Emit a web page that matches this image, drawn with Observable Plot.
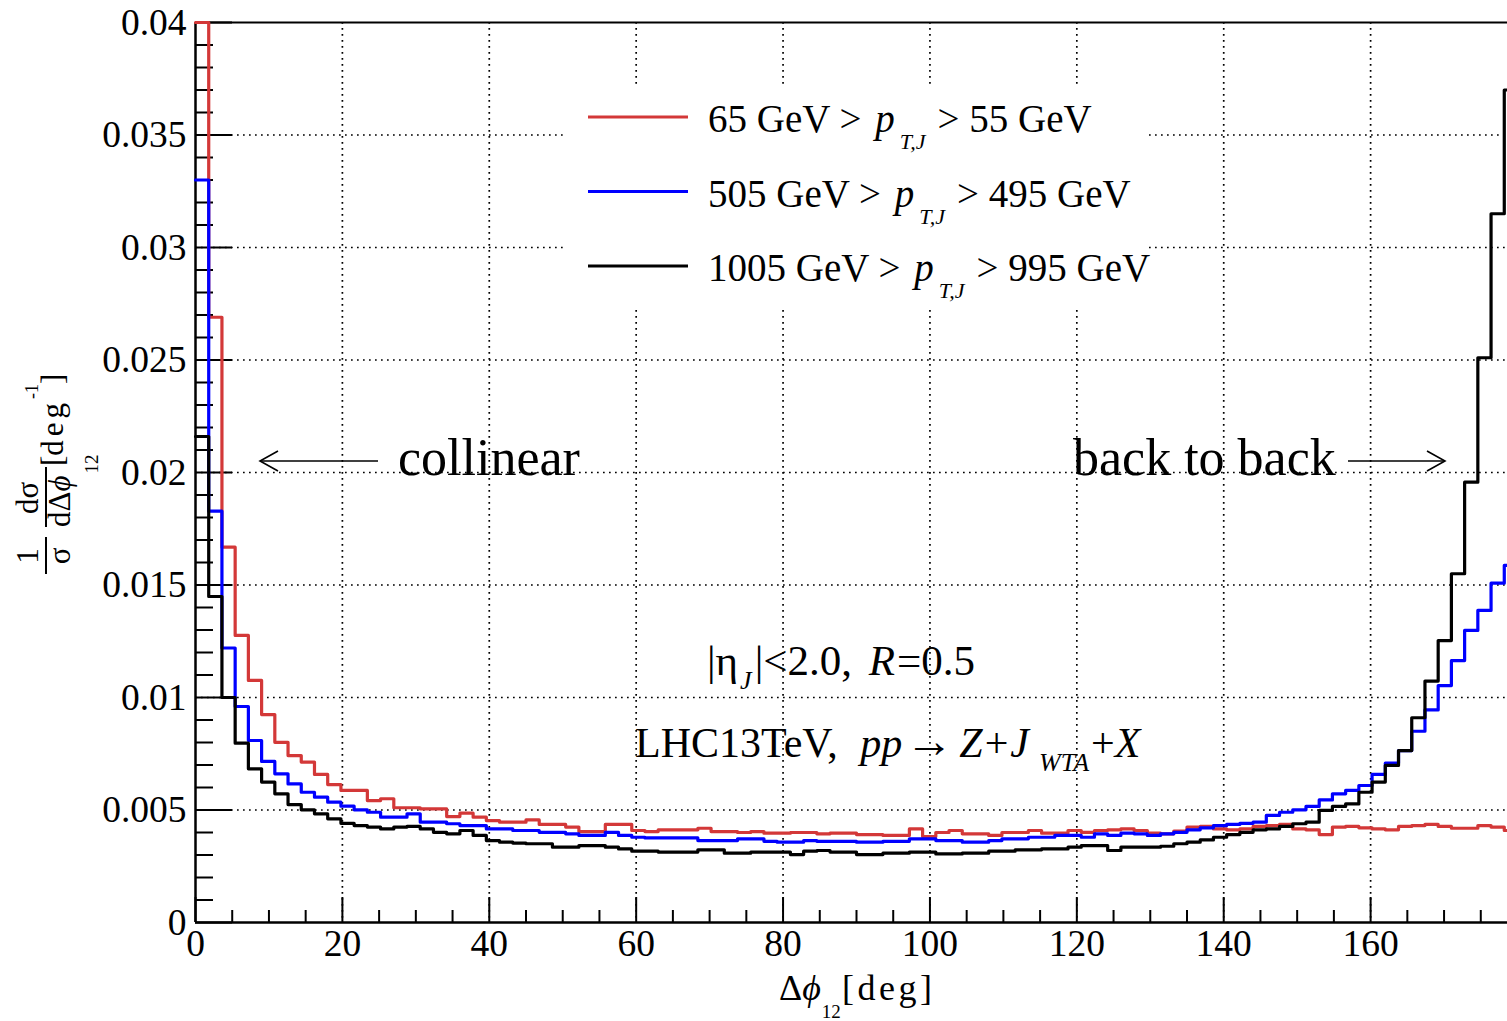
<!DOCTYPE html>
<html><head><meta charset="utf-8">
<script src="https://cdn.jsdelivr.net/npm/d3@7"></script>
<script src="https://cdn.jsdelivr.net/npm/@observablehq/plot@0.6"></script>
<style>
html,body{margin:0;padding:0;overflow:hidden;background:#fff;width:1507px;height:1021px}
#chart svg{max-width:none !important;}
</style></head><body><div id="chart"></div>
<script>
const binWidth = 1.8;
const seriesNames = ["65 GeV > pT,J > 55 GeV", "505 GeV > pT,J > 495 GeV", "1005 GeV > pT,J > 995 GeV"];
const seriesColors = ["#d33838", "#0000ff", "#000000"];
const legendPre = ["65 GeV > ", "505 GeV > ", "1005 GeV > "];
const legendPost = ["> 55 GeV", "> 495 GeV", "> 995 GeV"];
const red = [0.0400,0.0269,0.01668,0.01276,0.01076,0.00924,0.00801,0.00742,0.00713,0.00658,
0.00613,0.00587,0.00587,0.00542,0.0055,0.0051,0.0051,0.00505,0.00505,0.00471,
0.00486,0.00468,0.00453,0.00446,0.00446,0.00456,0.00436,0.00436,0.00424,0.00404,
0.00404,0.00436,0.00436,0.00409,0.00404,0.00412,0.00412,0.00412,0.00419,0.00404,
0.00404,0.00400,0.00404,0.00397,0.00397,0.00400,0.00400,0.00394,0.00397,0.00397,
0.00391,0.00391,0.00387,0.00387,0.00416,0.00382,0.00400,0.00409,0.00394,0.00394,
0.00387,0.00400,0.00400,0.00409,0.00397,0.00397,0.00409,0.00401,0.00409,0.00412,
0.00416,0.00409,0.00397,0.00394,0.00406,0.00424,0.00427,0.00416,0.00412,0.00416,
0.00427,0.00431,0.00436,0.00416,0.00412,0.00391,0.00424,0.00427,0.00421,0.00416,
0.00412,0.00427,0.00431,0.00436,0.00427,0.00419,0.00419,0.00431,0.00424,0.00409];
const blue = [0.0330,0.01828,0.0122,0.0096,0.00809,0.00716,0.00661,0.00616,0.00579,0.00557,
0.00535,0.00517,0.00501,0.0049,0.00468,0.00468,0.00483,0.00446,0.00446,0.00439,
0.00431,0.00431,0.00416,0.00416,0.00409,0.00409,0.00401,0.00401,0.00394,0.00387,
0.00387,0.00401,0.00387,0.00379,0.00376,0.00376,0.00376,0.00376,0.00364,0.00364,
0.00364,0.00372,0.00372,0.00361,0.00357,0.00357,0.00364,0.00361,0.00361,0.00361,
0.00357,0.00357,0.00361,0.00361,0.00372,0.00372,0.00364,0.00364,0.00357,0.00357,
0.00364,0.00372,0.00372,0.00379,0.00379,0.00387,0.00387,0.00379,0.00394,0.00387,
0.00397,0.00394,0.00387,0.00394,0.00401,0.00412,0.00421,0.00431,0.00436,0.00441,
0.00446,0.00476,0.0049,0.00501,0.00516,0.00545,0.00572,0.00587,0.00609,0.00658,
0.00708,0.00764,0.0085,0.00945,0.01053,0.01164,0.01298,0.01387,0.01508,0.01587];
const black = [0.0216,0.01449,0.0100,0.00797,0.00683,0.00624,0.00572,0.00524,0.00501,0.00483,
0.00461,0.00441,0.00431,0.00424,0.00416,0.00424,0.00427,0.00416,0.00401,0.00394,
0.00409,0.00387,0.00364,0.00357,0.00353,0.0035,0.0035,0.00335,0.00335,0.00342,
0.00342,0.00335,0.00327,0.00317,0.00317,0.00313,0.00313,0.00313,0.00323,0.00323,
0.00308,0.00308,0.00313,0.00313,0.00313,0.00302,0.00317,0.0032,0.00313,0.00313,
0.00302,0.00302,0.00308,0.00308,0.00313,0.00313,0.00305,0.00305,0.00308,0.00308,
0.00317,0.00317,0.00323,0.00323,0.00327,0.00327,0.00335,0.00342,0.00342,0.0032,
0.00335,0.00335,0.00335,0.00339,0.0035,0.00357,0.00367,0.00379,0.00391,0.00401,
0.00412,0.00416,0.00427,0.00439,0.00446,0.00498,0.00516,0.00527,0.00579,0.00624,
0.00698,0.00764,0.0091,0.01073,0.01253,0.0155,0.01957,0.0251,0.0315,0.0370];
const xMajor = [0,20,40,60,80,100,120,140,160,180];
const xLabels = [0,20,40,60,80,100,120,140,160];
const xMinor = d3.range(0, 181, 5).filter(d => d % 20 !== 0);
const yMajor = [0,0.005,0.01,0.015,0.02,0.025,0.03,0.035,0.04];
const yMinor = d3.range(0, 41).map(d => d/1000).filter((d,i) => i % 5 !== 0);

const series = [red, blue, black];
const rows = [];
series.forEach((vals, si) => {
  vals.forEach((v, i) => rows.push({x: i*binWidth, y: v, s: seriesNames[si]}));
  rows.push({x: 180, y: vals[vals.length-1], s: seriesNames[si]});
});

const FONT = "'Liberation Serif','Times New Roman',serif";
const fmt = d => String(+d.toFixed(3));
const grid = {stroke: "black", strokeOpacity: 1, strokeWidth: 1.7, strokeDasharray: "1.7,4.3"};

const chart = Plot.plot({
  width: 1525, height: 1021,
  marginLeft: 195, marginRight: 8, marginTop: 22, marginBottom: 99,
  style: {fontFamily: FONT, background: "white", color: "black", overflow: "visible", maxWidth: "none"},
  x: {domain: [0, 180], label: null},
  y: {domain: [0, 0.04], label: null},
  color: {domain: seriesNames, range: seriesColors},
  marks: [
    Plot.gridX(xMajor.filter(d => d > 0 && d < 180), grid),
    Plot.gridY(yMajor.filter(d => d > 0 && d < 0.04), grid),
    Plot.axisY(yMinor, {anchor: "left", tickSize: -18, tickFormat: () => "", strokeWidth: 2, label: null}),
    Plot.axisY(yMajor, {anchor: "left", tickSize: -37, tickFormat: () => "", strokeWidth: 2, label: null}),
    Plot.axisY(yMajor, {anchor: "left", tickSize: 0, tickPadding: 9, tickFormat: fmt, fontSize: 37.5, label: null}),
    Plot.axisX(xMinor, {anchor: "bottom", tickSize: -12, tickFormat: () => "", strokeWidth: 2, label: null}),
    Plot.axisX(xMajor, {anchor: "bottom", tickSize: -25, tickFormat: () => "", strokeWidth: 2, label: null}),
    Plot.axisX(xLabels, {anchor: "bottom", tickSize: 0, tickPadding: 7, fontSize: 37.5, label: null}),
    Plot.ruleX([0], {stroke: "black", strokeWidth: 2.5}),
    Plot.ruleY([0], {stroke: "black", strokeWidth: 2.5}),
    Plot.ruleY([0.04], {stroke: "black", strokeWidth: 2}),
    Plot.line(rows, {x: "x", y: "y", z: "s", stroke: "s", curve: "step-after", strokeWidth: 3.2})
  ]
});
chart.style.maxWidth = "none";
document.getElementById("chart").append(chart);

const svg = d3.select(chart);
const g = svg.append("g").attr("font-family", FONT).attr("fill", "black").attr("text-anchor", "start");

// Legend
const leg = g.append("g");
leg.append("rect").attr("x", 566).attr("y", 84).attr("width", 580).attr("height", 222).attr("fill", "white");
seriesNames.forEach((name, i) => {
  const yl = 117 + i * 74.5;
  leg.append("line").attr("x1", 588).attr("x2", 688).attr("y1", yl).attr("y2", yl)
    .attr("stroke", seriesColors[i]).attr("stroke-width", 3.2);
  const t = leg.append("text").attr("x", 708).attr("y", yl + 15).attr("font-size", 39);
  t.append("tspan").text(legendPre[i]);
  t.append("tspan").attr("font-style", "italic").attr("dx", 4).text("p");
  t.append("tspan").attr("font-style", "italic").attr("font-size", 22).attr("dy", 17).attr("dx", 5).text("T,J");
  t.append("tspan").attr("dy", -17).attr("dx", 12).text(legendPost[i]);
});

// collinear / back to back
g.append("text").attr("x", 398).attr("y", 475).attr("font-size", 52).text("collinear");
g.append("text").attr("x", 1073).attr("y", 475).attr("font-size", 52).text("back to back");
const arr = g.append("g").attr("stroke", "black").attr("stroke-width", 1.6).attr("fill", "none");
arr.append("line").attr("x1", 260).attr("x2", 378).attr("y1", 461).attr("y2", 461);
arr.append("polyline").attr("points", "278,451 260,461 278,471");
arr.append("line").attr("x1", 1348).attr("x2", 1445).attr("y1", 461).attr("y2", 461);
arr.append("polyline").attr("points", "1427,451 1445,461 1427,471");

// eta, R text
const t1 = g.append("text").attr("x", 707).attr("y", 675).attr("font-size", 43);
t1.append("tspan").text("|η");
t1.append("tspan").attr("font-style", "italic").attr("font-size", 26).attr("dy", 14).attr("dx", 2).text("J");
t1.append("tspan").attr("dy", -14).attr("dx", 3).text("|<2.0, ");
t1.append("tspan").attr("font-style", "italic").attr("dx", 6).text("R");
t1.append("tspan").attr("dx", 2).text("=0.5");

const t2 = g.append("text").attr("x", 635).attr("y", 757).attr("font-size", 42);
t2.append("tspan").text("LHC13TeV, ");
t2.append("tspan").attr("font-style", "italic").attr("dx", 12).text("pp");
t2.append("tspan").attr("font-size", 48).attr("dx", 3).text("→");
t2.append("tspan").attr("font-style", "italic").attr("dx", 6).text("Z");
t2.append("tspan").attr("dx", 2).text("+");
t2.append("tspan").attr("font-style", "italic").attr("dx", 2).text("J");
t2.append("tspan").attr("font-style", "italic").attr("font-size", 26).attr("dy", 14).attr("dx", 10).text("WTA");
t2.append("tspan").attr("dy", -14).attr("dx", 2).text("+");
t2.append("tspan").attr("font-style", "italic").text("X");

// x axis title
const xt = g.append("g");
const xa = xt.append("text").attr("x", 779).attr("y", 1000).attr("font-size", 36);
xa.append("tspan").text("Δ");
xa.append("tspan").attr("font-style", "italic").text("ϕ");
xa.append("tspan").attr("font-size", 19).attr("dy", 18).attr("dx", 1).text("12");
xt.append("text").attr("x", 842).attr("y", 1000).attr("font-size", 36).attr("textLength", 90).text("[deg]");

// y axis title (rotated)
const yt = g.append("g").attr("transform", "rotate(-90)");
yt.append("text").attr("x", -556).attr("y", 38).attr("text-anchor", "middle").attr("font-size", 31).text("1");
yt.append("text").attr("x", -556).attr("y", 70).attr("text-anchor", "middle").attr("font-size", 31).text("σ");
yt.append("line").attr("x1", -574).attr("x2", -537).attr("y1", 46).attr("y2", 46).attr("stroke", "black").attr("stroke-width", 2);
yt.append("text").attr("x", -498).attr("y", 38).attr("text-anchor", "middle").attr("font-size", 31).text("dσ");
const den = yt.append("text").attr("x", -527).attr("y", 70).attr("font-size", 31);
den.append("tspan").text("dΔ");
den.append("tspan").attr("font-style", "italic").text("ϕ");
den.append("tspan").attr("font-size", 19).attr("dy", 28).attr("dx", 2).text("12");
yt.append("line").attr("x1", -527).attr("x2", -467).attr("y1", 46).attr("y2", 46).attr("stroke", "black").attr("stroke-width", 2);
const br = yt.append("text").attr("x", -466).attr("y", 63).attr("font-size", 31);
br.append("tspan").text("[");
br.append("tspan").attr("letter-spacing", 4).text("deg");
br.append("tspan").attr("font-size", 18).attr("dy", -25).text("-1");
br.append("tspan").attr("dy", 25).text("]");
</script></body></html>
